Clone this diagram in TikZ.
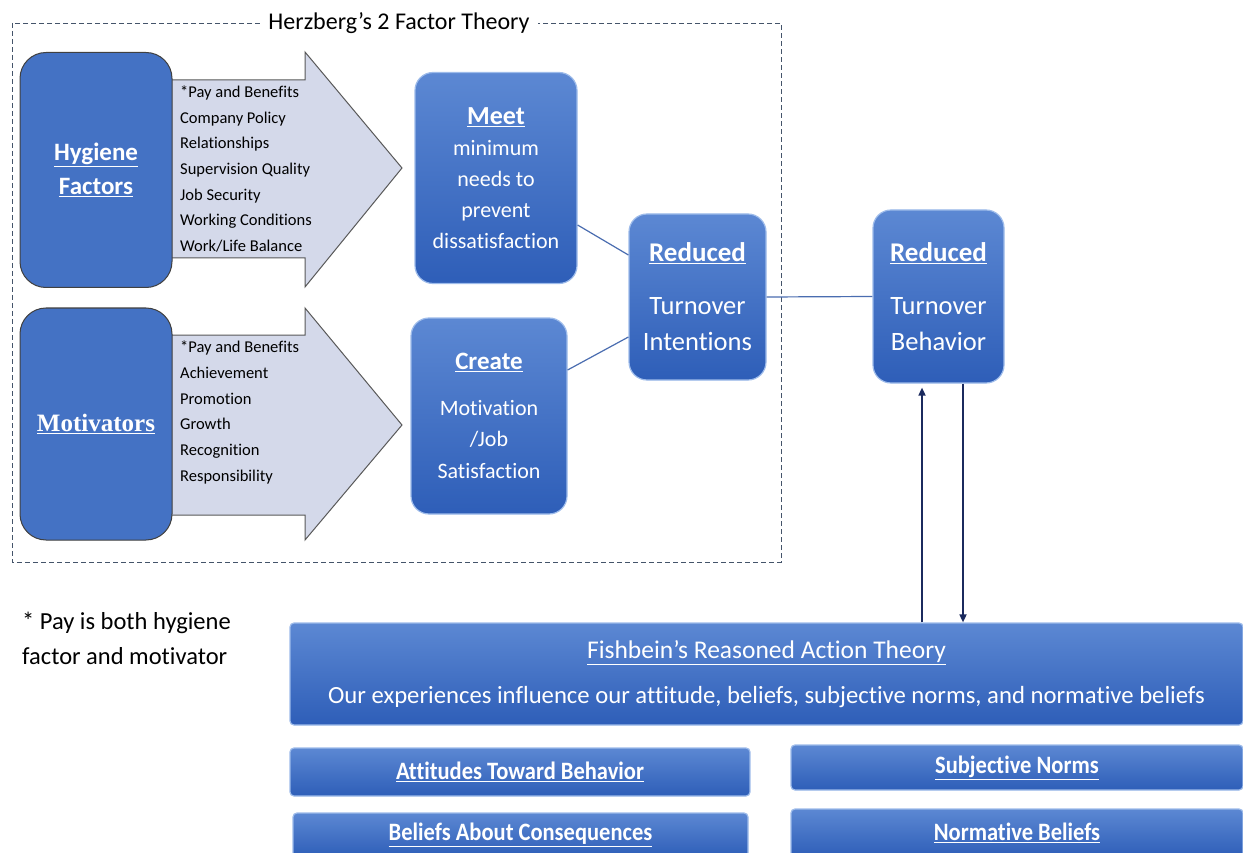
\documentclass[tikz,border=0pt]{standalone}
\usepackage{fontspec}
\setmainfont[Ligatures=NoCommon]{Carlito}
\newfontfamily\serifbf{Liberation Serif}
\newfontfamily\condfont[FakeStretch=0.9,Ligatures=NoCommon]{Carlito}
\usetikzlibrary{arrows.meta}
\definecolor{bTop}{HTML}{5C88D3}
\definecolor{bBot}{HTML}{2E5EB8}
\definecolor{bEdge}{HTML}{9DBBEA}
\definecolor{flatBlue}{HTML}{4472C4}
\definecolor{arrowFill}{HTML}{D4D9EA}
\definecolor{frameCol}{HTML}{44546A}
\definecolor{linkCol}{HTML}{4A6DB0}
\definecolor{navy}{HTML}{1B2A5E}
\newcommand\myul[1]{\underline{#1}}
\tikzset{
  bluebox/.style={rounded corners=18pt, top color=bTop, bottom color=bBot, draw=bEdge, line width=1.2pt, text=white, align=center, inner sep=0pt},
  flatbox/.style={rounded corners=26pt, fill=flatBlue, draw=black!75, line width=1pt, text=white, align=center, inner sep=0pt},
  widebox/.style={rounded corners=4pt, top color=bTop, bottom color=bBot, draw=bEdge, line width=1.2pt, text=white, align=center, inner sep=0pt},
  bigarrow/.style={fill=arrowFill, draw=black!65, line width=1pt},
  itemlist/.style={anchor=west, align=left, inner sep=0pt, font=\fontsize{16.5}{25.7}\selectfont},
  link/.style={draw=linkCol, line width=1.2pt},
  navyarrow/.style={draw=navy, line width=1.6pt, -{Triangle[length=8pt,width=7pt]}},
  smallbox/.style={widebox, font=\condfont\bfseries\fontsize{25}{28}\selectfont}
}
\begin{document}
\begin{tikzpicture}[x=1pt,y=-1pt]
\clip (0,0) rectangle (1243,853);
\fill[white] (0,0) rectangle (1243,853);
% frame
\draw[frameCol, dash pattern=on 5pt off 3pt, line width=0.8pt] (12,23) rectangle (781,562);
\node[fill=white, inner xsep=8pt, font=\fontsize{24}{27}\selectfont] (title) at (399,23) {Herzberg’s 2 Factor Theory};
% arrows
\draw[bigarrow] (170,80) -- (305,80) -- (305,52) -- (402,168) -- (305,287) -- (305,258) -- (170,258) -- cycle;
\draw[bigarrow] (170,335) -- (305,335) -- (305,308) -- (402,425) -- (305,540) -- (305,515) -- (170,515) -- cycle;
% left boxes
\node[flatbox, minimum width=152pt, minimum height=235pt, font=\bfseries\fontsize{25}{34}\selectfont] (hyg) at (96,170) {\myul{Hygiene}\\\myul{Factors}};
\node[flatbox, minimum width=152pt, minimum height=232pt, font=\serifbf\bfseries\fontsize{25}{30}\selectfont] (mot) at (96,424) {\myul{Motivators}};
\node[itemlist] (hitems) at (180,169) {*Pay and Benefits\\Company Policy\\Relationships\\Supervision Quality\\Job Security\\Working Conditions\\Work/Life Balance};
\node[itemlist] (mitems) at (180,412.5) {*Pay and Benefits\\Achievement\\Promotion\\Growth\\Recognition\\Responsibility};
% middle boxes
\node[bluebox, minimum width=162pt, minimum height=211pt, font=\fontsize{22}{31}\selectfont] (meet) at (496,178) {{\bfseries\fontsize{26}{31}\selectfont\myul{Meet}}\\minimum\\needs to\\prevent\\dissatisfaction};
\node[bluebox, minimum width=156pt, minimum height=196pt, font=\fontsize{22}{31.5}\selectfont] (create) at (489,416) {{\bfseries\fontsize{25}{31}\selectfont\myul{Create}}\\[14pt]Motivation\\/Job\\Satisfaction};
\node[bluebox, minimum width=137pt, minimum height=166pt, font=\fontsize{26.5}{36}\selectfont] (rti) at (697.5,297) {{\bfseries\fontsize{27}{36}\selectfont\myul{Reduced}}\\[17pt]Turnover\\Intentions};
\node[bluebox, minimum width=131pt, minimum height=173pt, font=\fontsize{26.5}{36}\selectfont] (rtb) at (938.5,296.5) {{\bfseries\fontsize{27}{36}\selectfont\myul{Reduced}}\\[17pt]Turnover\\Behavior};
% links
\draw[link] ([yshift=-47pt]meet.east) -- ([yshift=42pt]rti.west);
\draw[link] ([yshift=46pt]create.east) -- ([yshift=-40pt]rti.west);
\draw[link] (rti.east) -- (rtb.west);
% bottom
\node[widebox, minimum width=953pt, minimum height=102pt, font=\fontsize{24.7}{45}\selectfont] (fish) at (766.5,674) {{\fontsize{25.5}{45}\selectfont\myul{Fishbein’s Reasoned Action Theory}}\\Our experiences influence our attitude, beliefs, subjective norms, and normative beliefs};
\draw[navyarrow] ([xshift=-16.5pt]rtb.south |- fish.north) -- ([xshift=-16.5pt,yshift=-4pt]rtb.south);
\draw[navyarrow] ([xshift=24.5pt]rtb.south) -- ([xshift=24.5pt]rtb.south |- fish.north);
\node[smallbox, minimum width=460pt, minimum height=48pt] (att) at (520,772) {\myul{Attitudes Toward Behavior}};
\node[smallbox, minimum width=455pt, minimum height=44pt] (bel) at (520.5,835) {\myul{Beliefs About Consequences}};
\node[smallbox, minimum width=452pt, minimum height=45pt] (subj) at (1017,767.5) {\myul{Subjective Norms}};
\node[smallbox, minimum width=452pt, minimum height=48pt] (norm) at (1017,833) {\myul{Normative Beliefs}};
% note
\node[anchor=north west, align=left, inner sep=0pt, font=\fontsize{24.5}{35}\selectfont] (note) at (22,612) {* Pay is both hygiene\\factor and motivator};
\end{tikzpicture}
\end{document}
